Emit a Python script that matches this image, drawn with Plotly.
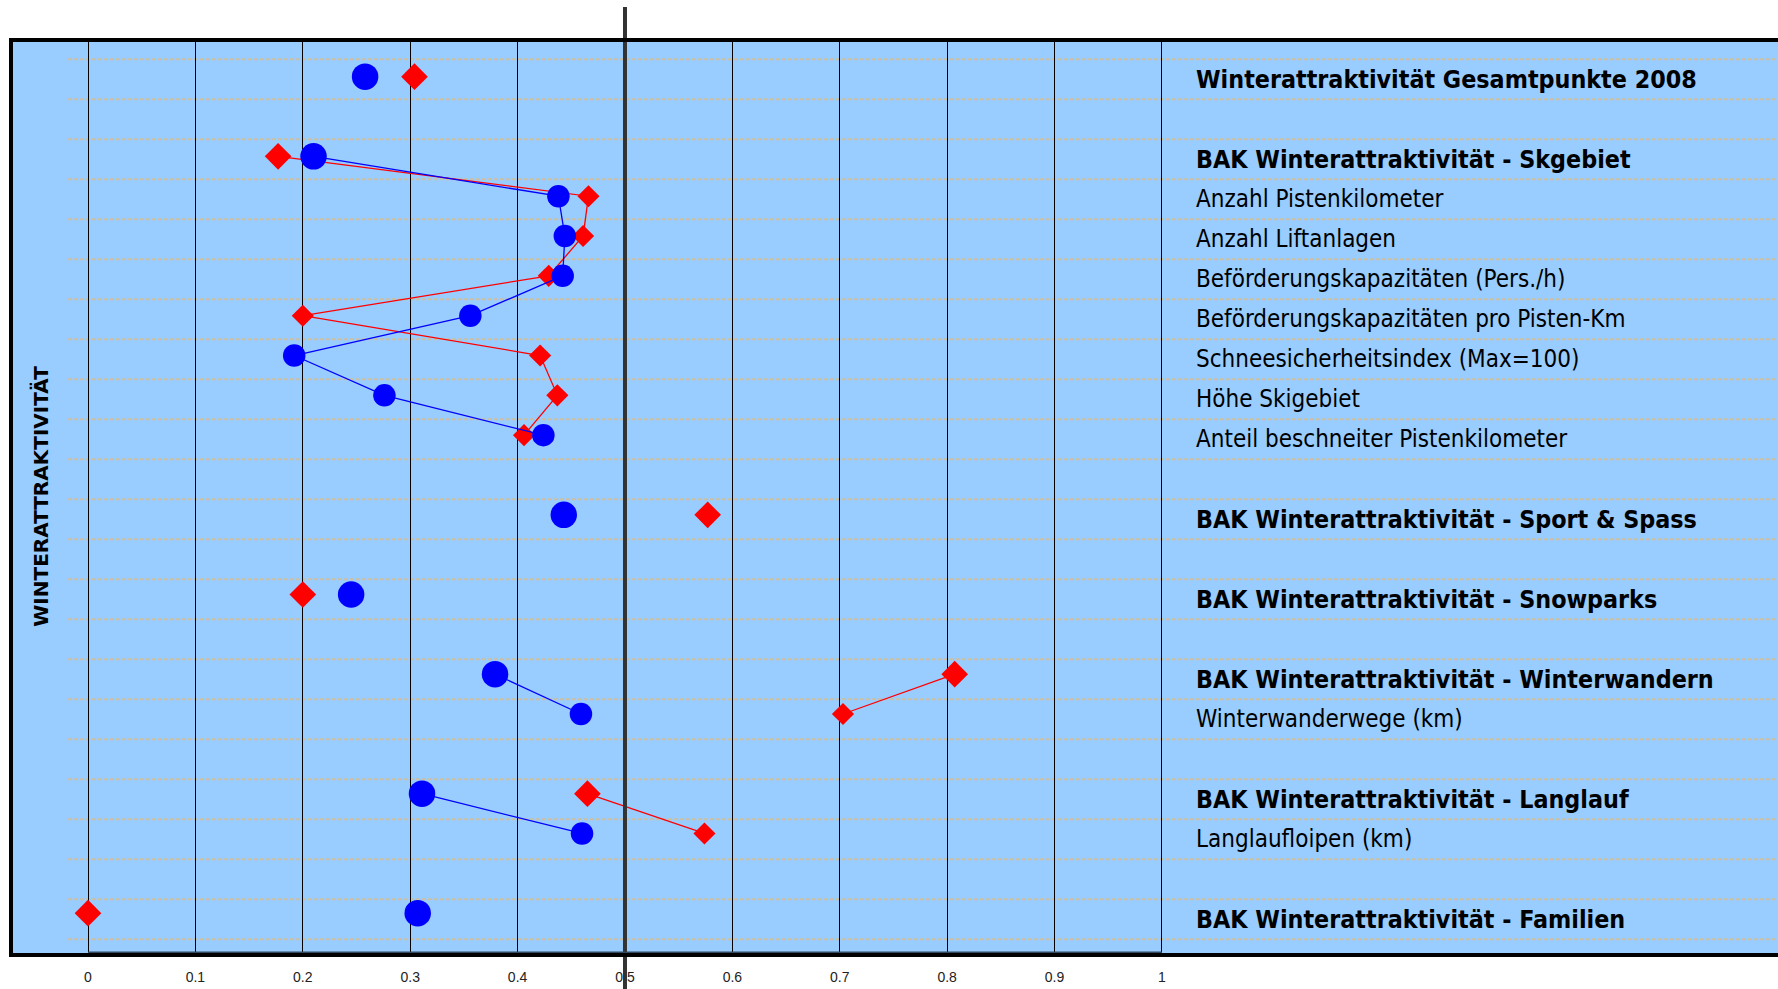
import plotly.graph_objects as go

# ---------------- data ----------------
row_labels = [
    "Winterattraktivität Gesamtpunkte 2008",
    "",
    "BAK Winterattraktivität - Skgebiet",
    "Anzahl Pistenkilometer",
    "Anzahl Liftanlagen",
    "Beförderungskapazitäten (Pers./h)",
    "Beförderungskapazitäten pro Pisten-Km",
    "Schneesicherheitsindex (Max=100)",
    "Höhe Skigebiet",
    "Anteil beschneiter Pistenkilometer",
    "",
    "BAK Winterattraktivität - Sport & Spass",
    "",
    "BAK Winterattraktivität - Snowparks",
    "",
    "BAK Winterattraktivität - Winterwandern",
    "Winterwanderwege (km)",
    "",
    "BAK Winterattraktivität - Langlauf",
    "Langlaufloipen (km)",
    "",
    "BAK Winterattraktivität - Familien",
]
row_is_header = [True, False, True, False, False, False, False, False, False, False, False,
                 True, False, True, False, True, False, False, True, False, False, True]

blue_values = [0.258, None, 0.210, 0.438, 0.444, 0.442, 0.356, 0.192, 0.276, 0.424, None,
               0.443, None, 0.245, None, 0.379, 0.459, None, 0.311, 0.460, None, 0.307]
red_values = [0.304, None, 0.177, 0.466, 0.461, 0.429, 0.200, 0.421, 0.437, 0.406, None,
              0.577, None, 0.200, None, 0.807, 0.703, None, 0.465, 0.574, None, 0.000]

x_tick_vals = [0, 0.1, 0.2, 0.3, 0.4, 0.5, 0.6, 0.7, 0.8, 0.9, 1]
x_tick_text = ["0", "0.1", "0.2", "0.3", "0.4", "0.5", "0.6", "0.7", "0.8", "0.9", "1"]
axis_title = "WINTERATTRAKTIVITÄT"

# ---------------- styling ----------------
BLUE = "#0000FF"
RED = "#FF0000"
BG = "#99CCFF"
DASH_COLOR = "#CCBFA3"
LABEL_FONT = "DejaVu Sans Condensed, DejaVu Sans, Verdana, sans-serif"

rows = list(range(len(row_labels)))
blue_sizes = [26.5 if h else 22.5 for h in row_is_header]
red_sizes = [20.5 if h else 17 for h in row_is_header]

fig = go.Figure()
fig.add_trace(go.Scatter(
    x=red_values, y=rows, mode="lines+markers", connectgaps=False, opacity=1,
    line=dict(color=RED, width=1.3),
    marker=dict(symbol="diamond", size=red_sizes, color=RED, opacity=1, line=dict(width=0)),
    showlegend=False, hoverinfo="skip"))
fig.add_trace(go.Scatter(
    x=blue_values, y=rows, mode="lines+markers", connectgaps=False, opacity=1,
    line=dict(color=BLUE, width=1.3),
    marker=dict(symbol="circle", size=blue_sizes, color=BLUE, opacity=1, line=dict(width=0)),
    showlegend=False, hoverinfo="skip"))
# invisible trace to anchor the label/cell axis
fig.add_trace(go.Scatter(x=[None], y=[None], yaxis="y2", showlegend=False, hoverinfo="skip"))

shapes = []
# dashed cell lines
for k in range(len(row_labels) + 1):
    shapes.append(dict(type="line", xref="x", yref="y2", x0=-0.0186, x1=1.7,
                       y0=k - 0.5, y1=k - 0.5, layer="below",
                       line=dict(color=DASH_COLOR, width=2, dash="4px,2px")))
# thick 0.5 line
shapes.append(dict(type="line", xref="x", yref="paper", x0=0.5, x1=0.5, y0=-0.04, y1=1.036,
                   layer="above", line=dict(color="#333333", width=4)))
# axis baseline
shapes.append(dict(type="line", xref="x", yref="paper", x0=0, x1=1, y0=0.003, y1=0.003,
                   layer="above", line=dict(color="#34495E", width=1.5)))
# black frame
shapes.append(dict(type="rect", xref="paper", yref="paper", x0=0, x1=1.01, y0=0, y1=1,
                   layer="above", line=dict(color="black", width=4), fillcolor="rgba(0,0,0,0)"))

annotations = []
for k, (lab, hdr) in enumerate(zip(row_labels, row_is_header)):
    if not lab:
        continue
    annotations.append(dict(
        x=1.0294, y=k, xref="x", yref="y2", xanchor="left", yanchor="middle",
        text=f"<b>{lab}</b>" if hdr else lab, showarrow=False,
        font=dict(family=LABEL_FONT, size=24.8 if hdr else 24, color="black")))
annotations.append(dict(
    x=0.0165, y=0.501, xref="paper", yref="paper", xanchor="center", yanchor="middle",
    text=f"<b>{axis_title}</b>", textangle=-90, showarrow=False,
    font=dict(family="DejaVu Sans, Verdana, sans-serif", size=20, color="black")))

fig.update_layout(
    width=1778, height=989, autosize=False,
    margin=dict(l=11, r=0, t=40, b=34, pad=0),
    paper_bgcolor="white", plot_bgcolor=BG,
    xaxis=dict(range=[-0.0717, 1.5736], tickvals=x_tick_vals, ticktext=x_tick_text,
               showgrid=True, gridcolor="black", gridwidth=1, zeroline=False,
               showline=False, ticks="", ticklabelstandoff=12,
               tickfont=dict(family="Liberation Sans, Arial, sans-serif", size=14, color="#222222")),
    yaxis=dict(range=[22.051, -0.9214], showgrid=False, zeroline=False,
               showticklabels=False, ticks=""),
    yaxis2=dict(range=[21.895, -0.98], overlaying="y", showgrid=False, zeroline=False,
                showticklabels=False, ticks="", side="right"),
    shapes=shapes, annotations=annotations,
)

fig.write_html("out.html", config={"displayModeBar": False},
               post_script="document.body.style.margin='0';document.body.style.overflow='hidden';")
